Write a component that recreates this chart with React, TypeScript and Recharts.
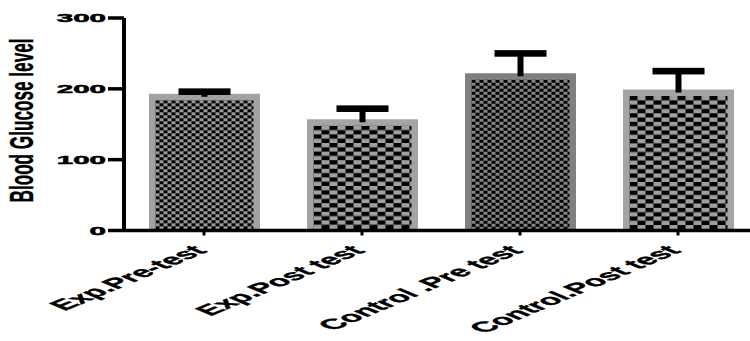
import React from 'react';
import { BarChart, Bar, XAxis, YAxis } from 'recharts';

// Groups and their blood glucose summary values
const categories = ['Exp.Pre-test', 'Exp.Post test', 'Control .Pre test', 'Control.Post test'];
const means = [193, 157, 222, 199];
const sds = [3, 15, 28, 26];
const yTicks = [0, 100, 200, 300];

const data = categories.map((name, i) => ({ name, mean: means[i], sd: sds[i] }));

// Frame colour, checker gray and checker cell size per bar
const barLooks = [
  { frame: '#a2a2a4', gray: '#9a9a9c', pw: 4, ph: 3 },
  { frame: '#a4a4a6', gray: '#a0a0a2', pw: 8, ph: 4.3 },
  { frame: '#808080', gray: '#858585', pw: 4, ph: 3 },
  { frame: '#a4a4a6', gray: '#a0a0a2', pw: 8, ph: 4.3 },
];

const FONT = '"Liberation Sans", Arial, sans-serif';

const CheckerBar = (props: any) => {
  const { x, y, width, height, index } = props;
  if (!height || height <= 0) return null;
  const look = barLooks[index % barLooks.length];
  const id = `checker-${index}`;
  const b = 6.5;
  return (
    <g>
      <defs>
        <pattern
          id={id}
          patternUnits="userSpaceOnUse"
          x={x + b}
          y={y + b}
          width={look.pw * 2}
          height={look.ph * 2}
        >
          <rect x={0} y={0} width={look.pw * 2} height={look.ph * 2} fill={look.gray} />
          <rect x={0} y={0} width={look.pw} height={look.ph} fill="#000" />
          <rect x={look.pw} y={look.ph} width={look.pw} height={look.ph} fill="#000" />
        </pattern>
      </defs>
      <rect x={x} y={y} width={width} height={height} fill={look.frame} />
      <rect x={x + b} y={y + b} width={width - 2 * b} height={height - b} fill={`url(#${id})`} />
    </g>
  );
};

// Upper error bar: stem from the bar top to the cap at mean + SD
const ErrorT = (props: any) => {
  const { x, y, width, height } = props;
  if (height == null) return null;
  const cx = x + width / 2;
  const capW = 52;
  const capH = 6.6;
  return (
    <g>
      <rect x={cx - 3} y={y} width={6} height={height + 3} fill="#000" />
      <rect x={cx - capW / 2} y={y - capH / 2} width={capW} height={capH} fill="#000" />
    </g>
  );
};

const XTick = (props: any) => {
  const { x, y, payload } = props;
  return (
    <text
      transform={`translate(${x + 4}, ${y + 16}) scale(2.4, 1) rotate(-45)`}
      textAnchor="end"
      fontFamily={FONT}
      fontWeight="bold"
      fontSize={14.5}
      fill="#000"
      stroke="#000"
      strokeWidth={0.35}
    >
      {payload.value}
    </text>
  );
};

const YTick = (props: any) => {
  const { x, y, payload } = props;
  return (
    <text
      transform={`translate(${x}, ${y + 4.2}) scale(2.5, 1)`}
      textAnchor="end"
      fontFamily={FONT}
      fontWeight="bold"
      fontSize={11.8}
      fill="#000"
      stroke="#000"
      strokeWidth={0.5}
    >
      {payload.value}
    </text>
  );
};

export default function App() {
  return (
    <div style={{ position: 'absolute', left: 0, top: 0, width: 750, height: 341, background: '#fff' }}>
      <BarChart
        width={750}
        height={341}
        data={data}
        margin={{ top: 18, right: 0, bottom: 0, left: 0 }}
      >
        <XAxis
          dataKey="name"
          height={110.5}
          padding={{ left: 1, right: -7 }}
          axisLine={{ stroke: '#000', strokeWidth: 3.5 }}
          tickLine={{ stroke: '#000', strokeWidth: 3 }}
          tickSize={5}
          tickMargin={0}
          interval={0}
          tick={<XTick />}
        />
        <YAxis
          width={124}
          domain={[0, 300]}
          ticks={yTicks}
          allowDataOverflow
          axisLine={{ stroke: '#000', strokeWidth: 4 }}
          tickLine={{ stroke: '#000', strokeWidth: 3.5 }}
          tickSize={16}
          tickMargin={2}
          tick={<YTick />}
        />
        <Bar dataKey="mean" stackId="g" barSize={111} shape={<CheckerBar />} isAnimationActive={false} />
        <Bar dataKey="sd" stackId="g" barSize={111} shape={<ErrorT />} isAnimationActive={false} />
        <text
          transform="translate(33, 120.5) rotate(-90) scale(0.52, 1)"
          textAnchor="middle"
          fontFamily={FONT}
          fontWeight="bold"
          fontSize={33}
          fill="#000"
          stroke="#000"
          strokeWidth={0.4}
        >
          Blood Glucose level
        </text>
      </BarChart>
    </div>
  );
}
